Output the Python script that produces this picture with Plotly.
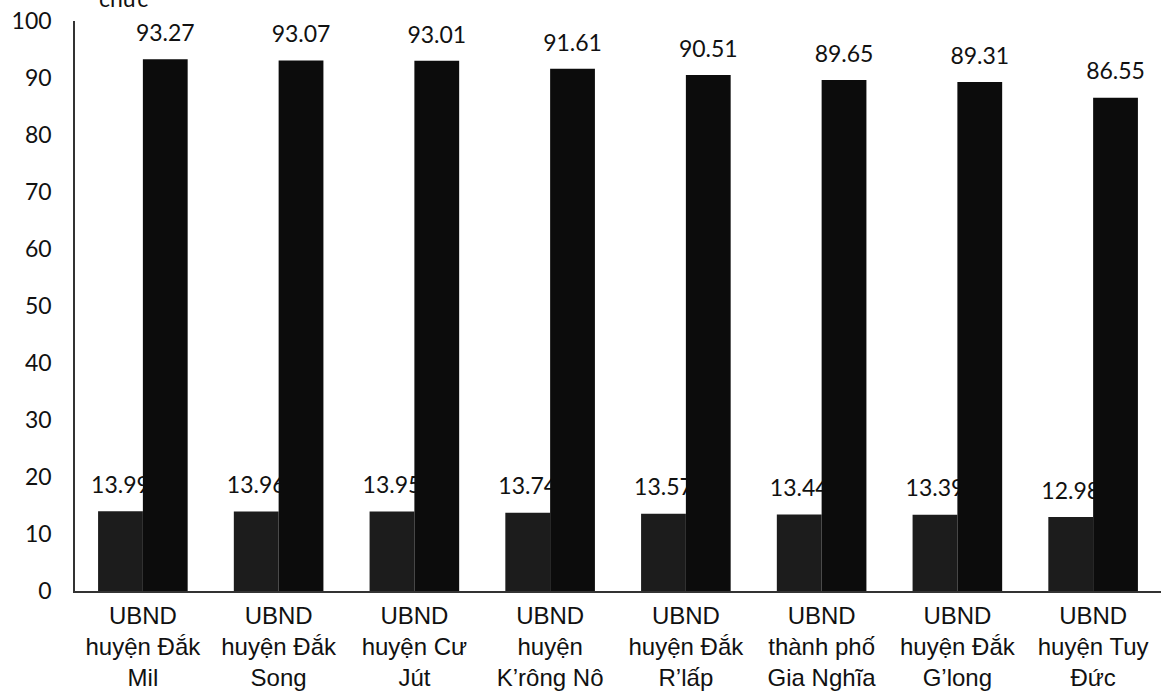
import plotly.graph_objects as go

categories = [
    "UBND<br>huyện Đắk<br>Mil",
    "UBND<br>huyện Đắk<br>Song",
    "UBND<br>huyện Cư<br>Jút",
    "UBND<br>huyện<br>K’rông Nô",
    "UBND<br>huyện Đắk<br>R’lấp",
    "UBND<br>thành phố<br>Gia Nghĩa",
    "UBND<br>huyện Đắk<br>G’long",
    "UBND<br>huyện Tuy<br>Đức",
]
series1 = [13.99, 13.96, 13.95, 13.74, 13.57, 13.44, 13.39, 12.98]
series2 = [93.27, 93.07, 93.01, 91.61, 90.51, 89.65, 89.31, 86.55]
y_ticks = [0, 10, 20, 30, 40, 50, 60, 70, 80, 90, 100]

NUM_FONT = dict(family="Lato, 'Open Sans', sans-serif", size=23, color="#111111")
LABEL_PAD = 1.8  # gap (axis units) between bar top and its value label

fig = go.Figure()

def add_series(vals, color, group):
    fig.add_trace(go.Bar(
        x=categories, y=vals, offsetgroup=group,
        marker=dict(color=color, line=dict(width=0)),
        showlegend=False,
    ))
    # transparent carrier bar sitting on top of the series bar, holding the value label
    fig.add_trace(go.Bar(
        x=categories, y=[LABEL_PAD] * len(vals), base=vals, offsetgroup=group,
        marker=dict(color="rgba(0,0,0,0)", line=dict(width=0)),
        text=[f"{v:.2f}" for v in vals],
        textposition="outside", textfont=NUM_FONT, constraintext="none",
        textangle=0, cliponaxis=False, hoverinfo="skip", showlegend=False,
    ))

add_series(series1, "#1c1c1c", "a")
add_series(series2, "#0c0c0c", "b")

fig.add_annotation(
    text="chức", xref="paper", yref="paper", x=0.02, y=1.012,
    xanchor="left", yanchor="bottom", showarrow=False,
    font=dict(family="Lato, 'Open Sans', sans-serif", size=23, color="#111111"),
)

fig.update_layout(
    width=1164, height=699,
    margin=dict(l=75, r=3, t=21, b=108),
    paper_bgcolor="white", plot_bgcolor="white",
    barmode="group", bargap=0.34, bargroupgap=0,
    xaxis=dict(
        type="category", range=[-0.5, 7.5],
        showline=True, linecolor="#333333", linewidth=1.5,
        ticks="", showgrid=False,
        tickfont=dict(family="'Liberation Sans', Arial, sans-serif", size=24, color="#111111"),
        ticklabelstandoff=2,
    ),
    yaxis=dict(
        range=[0, 100], tickvals=y_ticks,
        showline=True, linecolor="#333333", linewidth=1.5,
        ticks="", showgrid=False, zeroline=False,
        tickfont=NUM_FONT, ticklabelstandoff=17,
    ),
)

fig.write_html("out.html")
